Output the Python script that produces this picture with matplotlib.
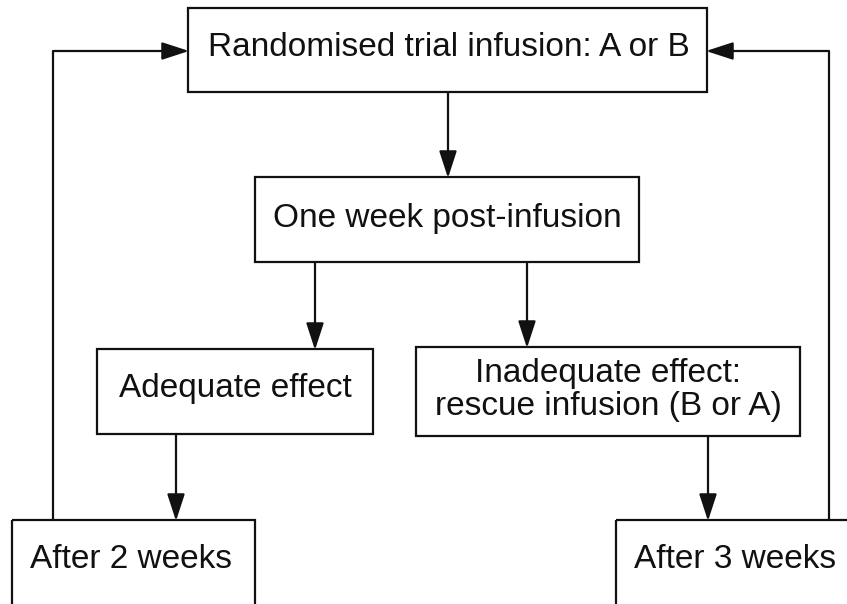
import matplotlib
matplotlib.use("Agg")
import matplotlib.pyplot as plt
from matplotlib.patches import Rectangle, FancyArrowPatch

# Besedila v okvirjih diagrama
labels = [
    "Randomised trial infusion: A or B",
    "One week post-infusion",
    "Adequate effect",
    "Inadequate effect:\nrescue infusion (B or A)",
    "After 2 weeks",
    "After 3 weeks",
]

# Postavitev okvirjev v pikslih: (levo, desno, zgoraj, spodaj)
boxes = [
    (188, 707, 8, 92),
    (255, 639, 177, 262),
    (97, 373, 349, 434),
    (416, 800, 347, 436),
    (12, 255, 520, 612),
    (616, 860, 520, 612),
]
# Središča besedil (x, y)
text_pos = [(449, 47), (447, 218), (235, 389), (608, 390), (131, 559), (735, 559)]

# Puščice: seznam točk poti, zadnja točka je konica
arrows = [
    [(448, 92), (448, 178)],
    [(315, 262), (315, 350)],
    [(527, 262), (527, 348)],
    [(176, 434), (176, 521)],
    [(708, 436), (708, 521)],
    [(53, 520), (53, 51), (189, 51)],
    [(829, 520), (829, 51), (706, 51)],
]

fig = plt.figure(figsize=(8.47, 6.04), dpi=100)
ax = fig.add_axes([0, 0, 1, 1])
ax.set_xlim(0, 847)
ax.set_ylim(604, 0)
ax.axis("off")

lw = 1.6
for (x0, x1, y0, y1) in boxes:
    ax.add_patch(Rectangle((x0, y0), x1 - x0, y1 - y0, fill=False,
                           edgecolor="#111111", linewidth=lw))

for txt, (tx, ty) in zip(labels, text_pos):
    ax.text(tx, ty, txt, ha="center", va="center", fontsize=24,
            family="Liberation Sans", color="#111111", linespacing=1.05)

for pts in arrows:
    if len(pts) > 2:
        xs = [p[0] for p in pts[:-1]]
        ys = [p[1] for p in pts[:-1]]
        ax.plot(xs, ys, color="#111111", linewidth=lw, solid_capstyle="butt")
    a = FancyArrowPatch(pts[-2], pts[-1],
                        arrowstyle="-|>,head_length=0.83,head_width=0.27",
                        mutation_scale=20, color="#111111", linewidth=lw,
                        shrinkA=0, shrinkB=0)
    ax.add_patch(a)

fig.savefig("out.png", dpi=100)
